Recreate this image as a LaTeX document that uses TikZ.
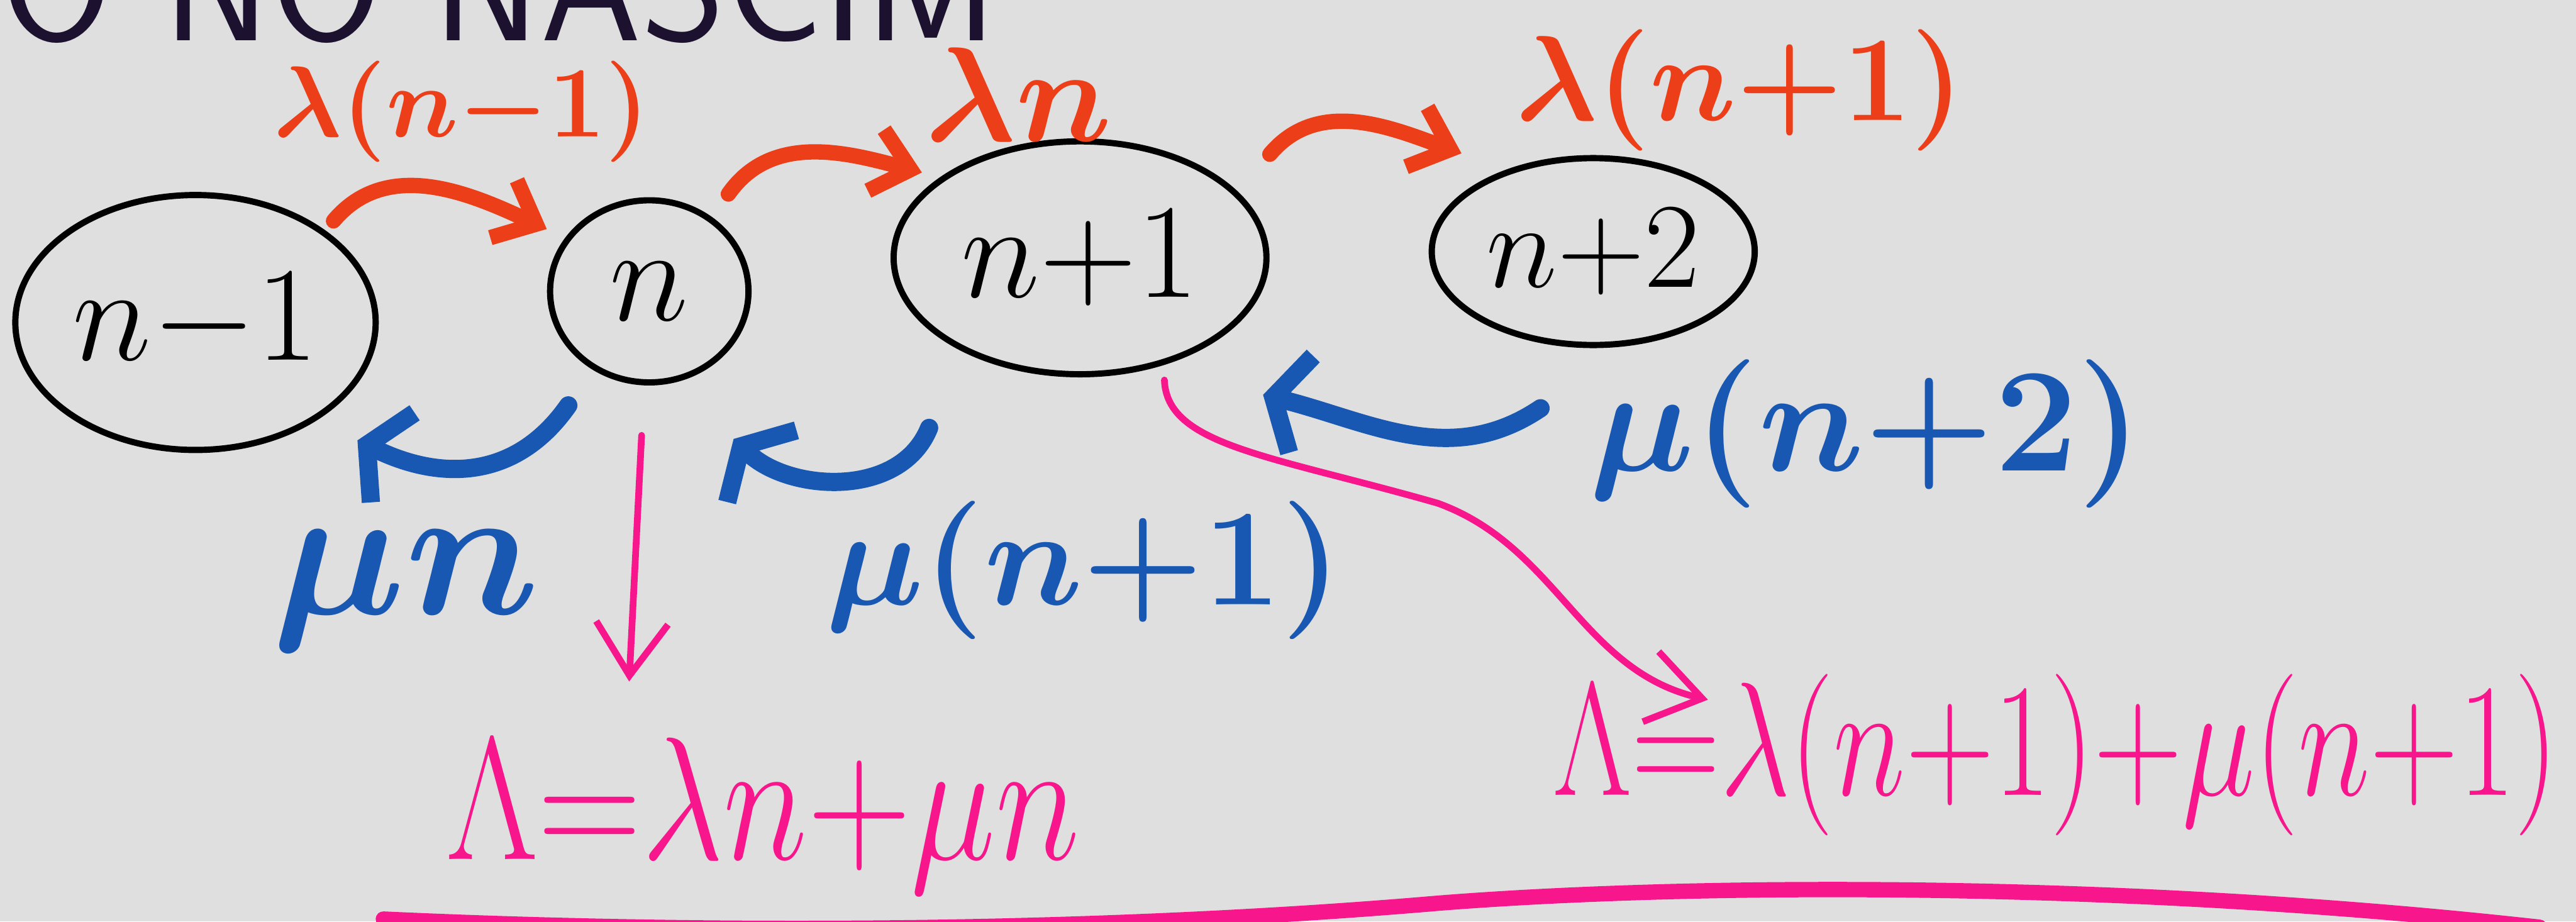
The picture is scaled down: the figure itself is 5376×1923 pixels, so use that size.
\RequirePackage{fix-cm}
\documentclass[tikz,border=0pt]{standalone}
\usepackage{amssymb}
\usepackage{graphicx}
\usepackage{tikz}
\usepackage{xcolor}
\usetikzlibrary{shapes.geometric,arrows.meta}

\definecolor{fundo}{RGB}{223,223,223}
\definecolor{laranja}{RGB}{236,62,24}
\definecolor{azul}{RGB}{24,88,178}
\definecolor{rosa}{RGB}{247,22,140}
\definecolor{tinta}{RGB}{28,18,48}

\begin{document}
\begin{tikzpicture}[x=0.05mm, y=0.05mm,
			 estado/.style={ellipse, draw, line width=0.65mm, inner sep=0pt, font=\fontsize{40}{48}\selectfont},
			 taxa/.style={inner sep=0pt},
			 nasc/.style={draw=laranja, line width=1.6mm, line cap=round, line join=round, -{Straight Barb[length=3.75mm,width=6.6mm]}},
			 morte/.style={draw=azul, line width=1.9mm, line cap=round, line join=round, -{Straight Barb[length=3mm,width=10.4mm]}},
			 fluxo/.style={draw=rosa, line width=0.7mm, line cap=round, line join=round, -{Straight Barb[length=5.5mm,width=7.5mm]}}
  		]

	\useasboundingbox (0,0) rectangle (5376,-1923);
	\fill[fundo] (0,0) rectangle (5376,-1923);

	%Titulo cortado no alto
	\begin{scope}
		\clip (0,0) rectangle (5376,-1923);
		\node[anchor=base west, text=tinta, inner sep=0pt, font=\fontsize{48}{56}\selectfont\sffamily] (titulo) at (0,-85) {O NO NASCIM};
	\end{scope}

	%Criamos os estados
		\node[estado, minimum width=37.6mm, minimum height=26.6mm] (v1) at (408,-673) {$n{-}1$};
		\node[estado, minimum width=20.7mm, minimum height=19mm] (v2) at (1355,-608) {$n$};
		\node[estado, minimum width=38.9mm, minimum height=24.3mm] (v3) at (2254,-538) {$n{+}1$};
		\node[estado, minimum width=33.7mm, minimum height=19.5mm, font=\fontsize{36}{42}\selectfont] (v4) at (3325,-525) {$n{+}2$};

	%Taxas de nascimento
		\node[taxa, text=laranja, font=\fontsize{30}{36}\selectfont\boldmath] (l1) at (964,-233) {$\lambda(n{-}1)$};
		\node[taxa, text=laranja, font=\fontsize{40}{48}\selectfont\boldmath] (l2) at (2126,-197) {$\lambda n$};
		\node[taxa, text=laranja, font=\fontsize{36}{42}\selectfont\boldmath] (l3) at (3631,-188) {$\lambda(n{+}1)$};
	%Taxas de morte
		\node[taxa, text=azul, font=\fontsize{56}{64}\selectfont\boldmath] (m1) at (847,-1232) {$\mu n$};
		\node[taxa, text=azul, font=\fontsize{41}{48}\selectfont\boldmath] (m2) at (2262,-1190) {$\mu(n{+}1)$};
		\node[taxa, text=azul, font=\fontsize{44}{52}\selectfont\boldmath] (m3) at (3894,-905) {$\mu(n{+}2)$};
	%Taxas totais
		\node[taxa, text=rosa, font=\fontsize{52}{60}\selectfont] (t1) at (1592,-1702) {\scalebox{0.82}[1]{$\Lambda{=}\lambda n{+}\mu n$}};
		\node[taxa, text=rosa, font=\fontsize{48}{56}\selectfont] (t2) at (4290,-1575) {\scalebox{0.76}[1]{$\Lambda{=}\lambda(n{+}1){+}\mu(n{+}1)$}};

	%Setas de nascimento
		\draw[nasc] ([shift={(288,212)}]v1.center) to[out=50,in=155] ([shift={(-214,130)}]v2.center);
		\draw[nasc] ([shift={(165,203)}]v2.center) to[out=55,in=165] ([shift={(-330,178)}]v3.center);
		\draw[nasc] ([shift={(396,216)}]v3.center) to[out=50,in=160] ([shift={(-275,205)}]v4.center);
	%Setas de morte
		\draw[morte] ([shift={(-169,-238)}]v2.center) to[out=-125,in=-26,looseness=1.1] ([shift={(338,-246)}]v1.center);
		\draw[morte] ([shift={(-315,-355)}]v3.center) to[out=-112,in=-44] ([shift={(176,-308)}]v2.center);
		\draw[morte] ([shift={(-110,-327)}]v4.center) to[out=-146,in=-14] ([shift={(382,-286)}]v3.center);
	%Setas para as taxas totais
		\draw[fluxo] ([shift={(-16,-104)}]v2.south) -- ([shift={(-279,116)}]t1.north);
		\draw[fluxo] ([shift={(176,-255)}]v3.center) .. controls (2435,-930) and (2650,-950) .. (3000,-1050) .. controls (3250,-1140) and (3300,-1400) .. ([shift={(325,-55)}]t2.north west);

	%Sublinhado
	\draw[rosa, line width=1.6mm, line cap=round] (800,-1918) .. controls (1500,-1950) and (2300,-1945) .. (3000,-1885) .. controls (3500,-1845) and (4400,-1835) .. (5300,-1935);
\end{tikzpicture}
\end{document}
